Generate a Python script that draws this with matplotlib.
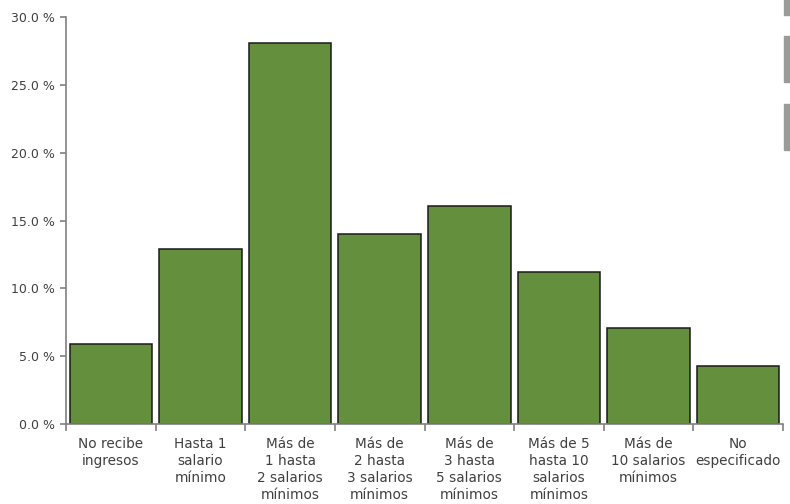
import matplotlib.pyplot as plt
from matplotlib.patches import Rectangle
import numpy as np

categories = ['No recibe\ningresos', 'Hasta 1\nsalario\nmínimo',
              'Más de\n1 hasta\n2 salarios\nmínimos', 'Más de\n2 hasta\n3 salarios\nmínimos',
              'Más de\n3 hasta\n5 salarios\nmínimos', 'Más de 5\nhasta 10\nsalarios\nmínimos',
              'Más de\n10 salarios\nmínimos', 'No\nespecificado']
values = [5.9, 12.9, 28.1, 14.0, 16.1, 11.2, 7.07, 4.27]
yticks = [0, 5, 10, 15, 20, 25, 30]

plt.rcParams['font.family'] = ['DejaVu Sans']

fig = plt.figure(figsize=(7.9, 5.04), dpi=100)
ax = fig.add_axes([66/790, 1-424/504, (783-66)/790, (424-17)/504])

x = np.arange(len(values))
ax.bar(x, values, width=0.92, color='#64903e', edgecolor='#1a1a1a', linewidth=1.1)

ax.set_xlim(-0.5, len(values)-0.5)
ax.set_ylim(0, 30)
ax.set_yticks(yticks)
ax.set_yticklabels(['%.1f %%' % v for v in yticks], fontsize=9, color='#404040')

# boundary ticks, labels at centers
ax.set_xticks(np.arange(len(values)+1)-0.5)
ax.set_xticklabels([])
ax.set_xticks(x, minor=True)
ax.set_xticklabels(categories, minor=True, fontsize=9.8, color='#404040', linespacing=1.28)
ax.tick_params(axis='x', which='minor', length=0, pad=9)
ax.tick_params(axis='x', which='major', length=5, color='#808080', width=1.2)
ax.tick_params(axis='y', length=4, color='#808080', width=1.2, pad=4)

for s in ['top', 'right']:
    ax.spines[s].set_visible(False)
ax.spines['left'].set_color('#808080')
ax.spines['bottom'].set_color('#808080')
ax.spines['left'].set_linewidth(1.2)
ax.spines['bottom'].set_linewidth(1.2)

# gray tabs on the right edge
for y0, y1 in [(0, 15), (36, 82), (104, 150)]:
    fig.patches.append(Rectangle((784/790, 1-y1/504), 6/790, (y1-y0)/504,
                                 transform=fig.transFigure, color='#9a9c9a'))

fig.savefig('out.png', dpi=100)
